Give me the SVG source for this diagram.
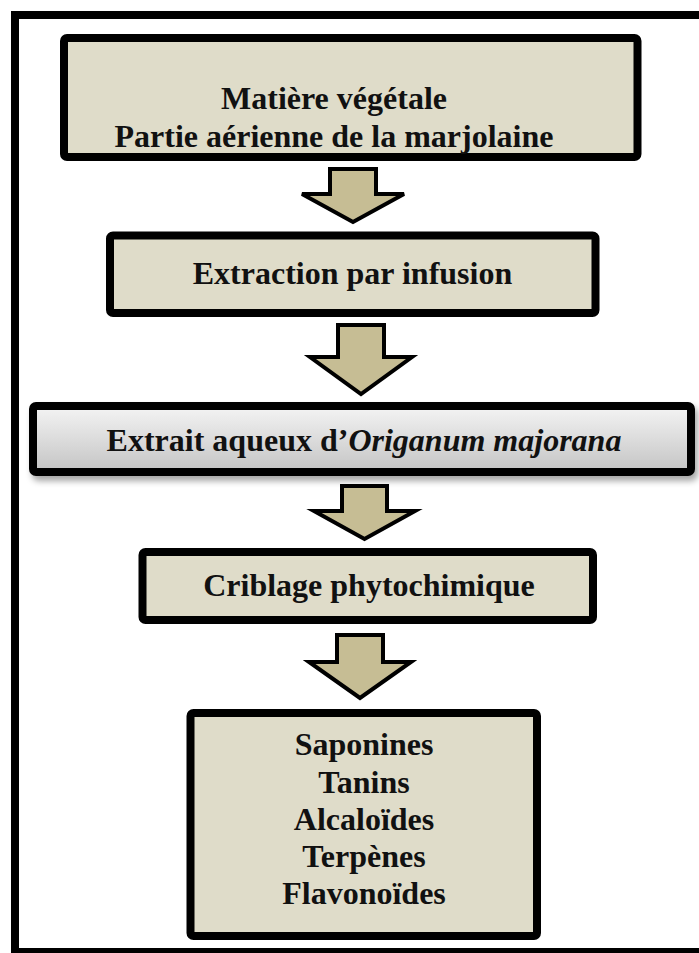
<svg xmlns="http://www.w3.org/2000/svg" width="699" height="953" viewBox="0 0 699 953">
<defs>
<linearGradient id="g3" x1="0" y1="0" x2="0" y2="1">
<stop offset="0" stop-color="#f4f4f4"/>
<stop offset="1" stop-color="#c4c4c4"/>
</linearGradient>
<filter id="sh" x="-5%" y="-20%" width="115%" height="160%">
<feGaussianBlur in="SourceAlpha" stdDeviation="3"/>
<feOffset dx="3" dy="5" result="b"/>
<feFlood flood-color="#000" flood-opacity="0.35"/>
<feComposite in2="b" operator="in"/>
<feMerge><feMergeNode/><feMergeNode in="SourceGraphic"/></feMerge>
</filter>
</defs>
<style>
.box{fill:#dfdcc9;stroke:#000;stroke-width:8}
.arr{fill:#c6bd94;stroke:#000;stroke-width:4;stroke-linejoin:miter}
text{font-family:"Liberation Serif","Times New Roman",serif;font-weight:bold;font-size:32px;fill:#111;text-anchor:middle}
</style>
<rect x="0" y="0" width="699" height="953" fill="#fff"/>
<rect id="frame" x="15" y="15" width="710" height="937" fill="none" stroke="#000" stroke-width="8"/>
<g id="connectors">
<polygon class="arr" points="330,169 376,169 376,194 404,194 353,222 302,194 330,194"/>
<polygon class="arr" points="338,325 384,325 384,357 412,357 361,394 310,357 338,357"/>
<polygon class="arr" points="342,486 387,486 387,511 415,511 364.5,539 314,511 342,511"/>
<polygon class="arr" points="337,635 383,635 383,662 411,662 360,698 309,662 337,662"/>
</g>
<g id="n1">
<rect class="box" x="64" y="38" width="573.5" height="119" rx="3"/>
<text x="334" y="109">Matière végétale</text>
<text x="334" y="147">Partie aérienne de la marjolaine</text>
</g>
<g id="n2">
<rect class="box" x="110" y="235.5" width="485.5" height="77.5" rx="3"/>
<text x="352.5" y="284">Extraction par infusion</text>
</g>
<g id="n3">
<rect x="33" y="406" width="658" height="66" rx="3" fill="url(#g3)" stroke="#000" stroke-width="8" filter="url(#sh)"/>
<text x="364" y="451">Extrait aqueux d’<tspan font-style="italic">Origanum majorana</tspan></text>
</g>
<g id="n4">
<rect class="box" x="142.5" y="552" width="450.5" height="68" rx="3"/>
<text x="369" y="596">Criblage phytochimique</text>
</g>
<g id="n5">
<rect class="box" x="190.5" y="713" width="346.5" height="223" rx="3"/>
<text x="364" y="755">Saponines</text>
<text x="364" y="793">Tanins</text>
<text x="364" y="830">Alcaloïdes</text>
<text x="364" y="867">Terpènes</text>
<text x="364" y="904">Flavonoïdes</text>
</g>
</svg>
